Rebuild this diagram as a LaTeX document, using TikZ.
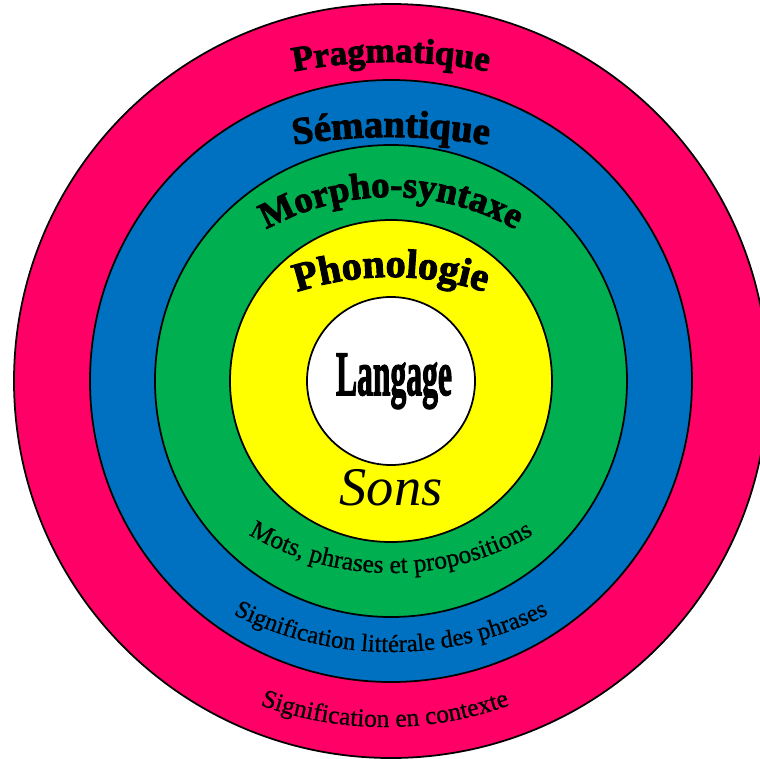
\documentclass[tikz,border=0pt]{standalone}
\usepackage{fontspec}
\setmainfont{Liberation Serif}
\newfontfamily\heavyfont{Liberation Serif Bold}[FakeBold=2.5]
\newfontfamily\notefont{Liberation Serif}[FakeBold=0.8]
\usetikzlibrary{decorations.text}
\definecolor{rPink}{HTML}{FF0066}
\definecolor{rBlue}{HTML}{0070C0}
\definecolor{rGreen}{HTML}{00B050}
\definecolor{rYellow}{HTML}{FFFF00}

\begin{document}
\begin{tikzpicture}[
  x=0.02cm, y=0.02cm,
  ring/.style={draw=black, line width=1pt},
  arclabel/.style={decorate, decoration={text along path, text align=center,
                   text={#1}}},
]
  % Frame
  \clip (-391,-377) rectangle (369,381);

  % Rings, outside in
  \foreach \r/\c in {377/rPink, 301/rBlue, 236/rGreen, 161/rYellow, 84/white}
    \draw[ring, fill=\c] (0,0) circle[radius=\r];

  % Top titles
  \path[arclabel={|\heavyfont\fontsize{20}{24}\selectfont|Pragmatique}]
    (0,-181) ++(120:500) arc[start angle=120, end angle=60, radius=500];
  \path[arclabel={|\heavyfont\fontsize{22}{26}\selectfont|Sémantique}]
    (0,-356) ++(110:600) arc[start angle=110, end angle=70, radius=600];
  \path[arclabel={|\heavyfont\fontsize{21}{25}\selectfont|Morpho-syntaxe}]
    (0,-70) ++(150:254) arc[start angle=150, end angle=30, radius=254];
  \path[arclabel={|\heavyfont\fontsize{23}{27}\selectfont|Phonologie}]
    (0,-196) ++(135:300) arc[start angle=135, end angle=45, radius=300];

  % Centre
  \node[anchor=base] (langage) at (3,-14)
    {\scalebox{0.5}[1]{\heavyfont\fontsize{36}{40}\selectfont Langage}};
  \node[anchor=base] (sons) at (0,-124)
    {\itshape\fontsize{31}{34}\selectfont Sons};

  % Bottom notes
  \path[arclabel={|\notefont\fontsize{14.5}{17}\selectfont|Mots, phrases et propositions}]
    (0,90) ++(210:282) arc[start angle=210, end angle=330, radius=282];
  \path[arclabel={|\notefont\fontsize{14}{17}\selectfont|Signification littérale des phrases}]
    (0,76) ++(215:347) arc[start angle=215, end angle=325, radius=347];
  \path[arclabel={|\notefont\fontsize{14.5}{17}\selectfont|Signification en contexte}]
    (-6,19) ++(220:365) arc[start angle=220, end angle=320, radius=365];
\end{tikzpicture}
\end{document}
